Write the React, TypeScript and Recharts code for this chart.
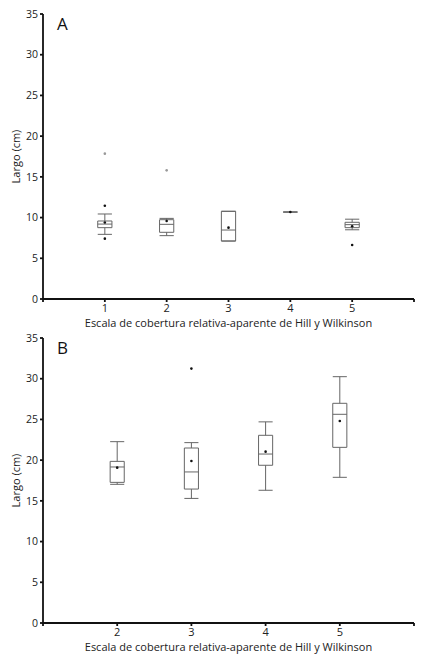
import React from 'react';
import { ComposedChart, XAxis, YAxis, Scatter, ReferenceArea, ReferenceLine } from 'recharts';

// Panel A: categories 1-5
const categoriesA = [1, 2, 3, 4, 5];
const lowA = [7.94, 7.78, 7.12, 10.68, 8.5];
const q1A = [8.76, 8.19, 7.12, 10.68, 8.76];
const medianA = [9.2, 9.17, 8.47, 10.68, 9.13];
const q3A = [9.58, 9.74, 10.77, 10.68, 9.42];
const highA = [10.44, 9.9, 10.77, 10.68, 9.8];
const meanA = [9.4, 9.58, 8.76, 10.68, 8.93];
const outliersA = [
  { x: 1, y: 11.46 },
  { x: 1, y: 7.41 },
  { x: 5, y: 6.63 },
];
const farOutliersA = [
  { x: 1, y: 17.85 },
  { x: 2, y: 15.8 },
];

// Panel B: categories 2-5
const categoriesB = [2, 3, 4, 5];
const lowB = [17.03, 15.3, 16.3, 17.89];
const q1B = [17.27, 16.45, 19.37, 21.57];
const medianB = [19.16, 18.55, 20.75, 25.63];
const q3B = [19.85, 21.49, 23.05, 26.98];
const highB = [22.27, 22.15, 24.7, 30.25];
const meanB = [19.08, 19.9, 21.04, 24.8];
const outliersB = [{ x: 3, y: 31.24 }];

const yTicks = [0, 5, 10, 15, 20, 25, 30, 35];
const xTicksA = [0, 1, 2, 3, 4, 5, 6];
const xTicksB = [1, 2, 3, 4, 5, 6];

const AXIS = '#111';
const BOX = '#666';
const TEXT = '#222';
const xLabel = 'Escala de cobertura relativa-aparente de Hill y Wilkinson';

const Dot = (color: string, r: number) => (props: any) => (
  <circle cx={props.cx} cy={props.cy} r={r} fill={color} />
);

interface BoxPanelProps {
  letter: string;
  cats: number[];
  low: number[];
  q1: number[];
  median: number[];
  q3: number[];
  high: number[];
  mean: number[];
  outliers: { x: number; y: number }[];
  farOutliers?: { x: number; y: number }[];
  xDomain: [number, number];
  xTicks: number[];
  half: number;
}

function BoxPanel(p: BoxPanelProps) {
  const means = p.cats.map((c, i) => ({ x: c, y: p.mean[i] }));
  const hidden = (v: number) => (v === p.xDomain[0] || v === p.xDomain[1] ? '' : String(v));
  return (
    <div style={{ position: 'relative', width: 427, height: 330 }}>
      <ComposedChart width={427} height={330} margin={{ top: 14, right: 13, bottom: 0, left: 0 }}>
        <XAxis
          type="number"
          dataKey="x"
          domain={p.xDomain}
          ticks={p.xTicks}
          tickFormatter={hidden}
          interval={0}
          height={31}
          tickSize={3}
          stroke={AXIS}
          strokeWidth={1.8}
          tick={{ fill: TEXT, fontSize: 11 }}
          label={{ value: xLabel, position: 'insideBottom', offset: 3, fill: TEXT, fontSize: 11 }}
        />
        <YAxis
          type="number"
          dataKey="y"
          domain={[0, 35]}
          ticks={yTicks}
          interval={0}
          width={43}
          tickSize={3}
          stroke={AXIS}
          strokeWidth={1.8}
          tick={{ fill: TEXT, fontSize: 10.5 }}
          label={{ value: 'Largo (cm)', angle: -90, position: 'insideLeft', offset: 16, fill: TEXT, fontSize: 11, style: { textAnchor: 'middle' } }}
        />
        {p.cats.map((c, i) => (
          <React.Fragment key={c}>
            <ReferenceLine segment={[{ x: c, y: p.low[i] }, { x: c, y: p.q1[i] }]} stroke={BOX} strokeWidth={1} />
            <ReferenceLine segment={[{ x: c, y: p.q3[i] }, { x: c, y: p.high[i] }]} stroke={BOX} strokeWidth={1} />
            <ReferenceLine segment={[{ x: c - p.half, y: p.low[i] }, { x: c + p.half, y: p.low[i] }]} stroke={BOX} strokeWidth={1} />
            <ReferenceLine segment={[{ x: c - p.half, y: p.high[i] }, { x: c + p.half, y: p.high[i] }]} stroke={BOX} strokeWidth={1} />
            <ReferenceArea x1={c - p.half} x2={c + p.half} y1={p.q1[i]} y2={p.q3[i]} fill="#fff" fillOpacity={0} stroke={BOX} strokeWidth={1} />
            <ReferenceLine segment={[{ x: c - p.half, y: p.median[i] }, { x: c + p.half, y: p.median[i] }]} stroke={BOX} strokeWidth={1} />
          </React.Fragment>
        ))}
        <Scatter data={means} shape={Dot('#111', 1.3)} isAnimationActive={false} />
        <Scatter data={p.outliers} shape={Dot('#111', 1.3)} isAnimationActive={false} />
        {p.farOutliers && (
          <Scatter data={p.farOutliers} shape={Dot('#999', 1.3)} isAnimationActive={false} />
        )}
      </ComposedChart>
      <div style={{ position: 'absolute', left: 57, top: 12, fontSize: 17, color: '#111' }}>{p.letter}</div>
    </div>
  );
}

export default function App() {
  return (
    <div style={{ position: 'absolute', left: 0, top: 0, width: 427, height: 659, background: '#fff', fontFamily: '"Open Sans", sans-serif' }}>
      <div style={{ position: 'absolute', left: 0, top: 0 }}>
        <BoxPanel
          letter="A"
          cats={categoriesA}
          low={lowA}
          q1={q1A}
          median={medianA}
          q3={q3A}
          high={highA}
          mean={meanA}
          outliers={outliersA}
          farOutliers={farOutliersA}
          xDomain={[0, 6]}
          xTicks={xTicksA}
          half={0.115}
        />
      </div>
      <div style={{ position: 'absolute', left: 0, top: 324 }}>
        <BoxPanel
          letter="B"
          cats={categoriesB}
          low={lowB}
          q1={q1B}
          median={medianB}
          q3={q3B}
          high={highB}
          mean={meanB}
          outliers={outliersB}
          xDomain={[1, 6]}
          xTicks={xTicksB}
          half={0.095}
        />
      </div>
    </div>
  );
}
